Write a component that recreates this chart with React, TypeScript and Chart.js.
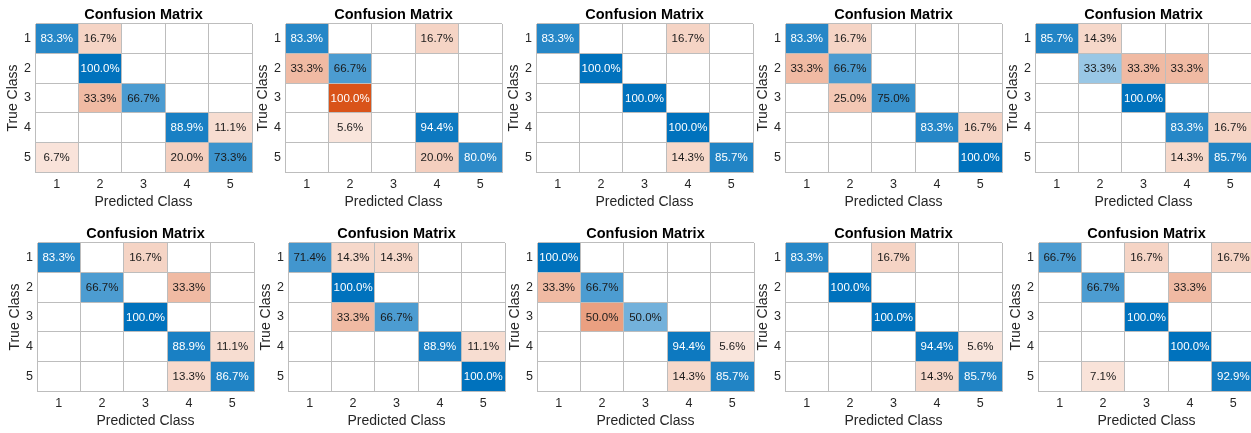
import React, { useEffect, useRef } from "react";
import { Chart, registerables } from "chart.js";

Chart.register(...registerables);

// Class labels shared by both axes
const classLabels = ["1", "2", "3", "4", "5"];
const chartTitle = "Confusion Matrix";
const xAxisTitle = "Predicted Class";
const yAxisTitle = "True Class";

// Row-normalized confusion matrices (percent), rows = true class, cols = predicted class; 0 = empty cell
const run1 = [
  [83.3, 16.7, 0, 0, 0],
  [0, 100.0, 0, 0, 0],
  [0, 33.3, 66.7, 0, 0],
  [0, 0, 0, 88.9, 11.1],
  [6.7, 0, 0, 20.0, 73.3],
];
const run2 = [
  [83.3, 0, 0, 16.7, 0],
  [33.3, 66.7, 0, 0, 0],
  [0, 100.0, 0, 0, 0],
  [0, 5.6, 0, 94.4, 0],
  [0, 0, 0, 20.0, 80.0],
];
const run3 = [
  [83.3, 0, 0, 16.7, 0],
  [0, 100.0, 0, 0, 0],
  [0, 0, 100.0, 0, 0],
  [0, 0, 0, 100.0, 0],
  [0, 0, 0, 14.3, 85.7],
];
const run4 = [
  [83.3, 16.7, 0, 0, 0],
  [33.3, 66.7, 0, 0, 0],
  [0, 25.0, 75.0, 0, 0],
  [0, 0, 0, 83.3, 16.7],
  [0, 0, 0, 0, 100.0],
];
const run5 = [
  [85.7, 14.3, 0, 0, 0],
  [0, 33.3, 33.3, 33.3, 0],
  [0, 0, 100.0, 0, 0],
  [0, 0, 0, 83.3, 16.7],
  [0, 0, 0, 14.3, 85.7],
];
const run6 = [
  [83.3, 0, 16.7, 0, 0],
  [0, 66.7, 0, 33.3, 0],
  [0, 0, 100.0, 0, 0],
  [0, 0, 0, 88.9, 11.1],
  [0, 0, 0, 13.3, 86.7],
];
const run7 = [
  [71.4, 14.3, 14.3, 0, 0],
  [0, 100.0, 0, 0, 0],
  [0, 33.3, 66.7, 0, 0],
  [0, 0, 0, 88.9, 11.1],
  [0, 0, 0, 0, 100.0],
];
const run8 = [
  [100.0, 0, 0, 0, 0],
  [33.3, 66.7, 0, 0, 0],
  [0, 50.0, 50.0, 0, 0],
  [0, 0, 0, 94.4, 5.6],
  [0, 0, 0, 14.3, 85.7],
];
const run9 = [
  [83.3, 0, 16.7, 0, 0],
  [0, 100.0, 0, 0, 0],
  [0, 0, 100.0, 0, 0],
  [0, 0, 0, 94.4, 5.6],
  [0, 0, 0, 14.3, 85.7],
];
const run10 = [
  [66.7, 0, 16.7, 0, 16.7],
  [0, 66.7, 0, 33.3, 0],
  [0, 0, 100.0, 0, 0],
  [0, 0, 0, 100.0, 0],
  [0, 7.1, 0, 0, 92.9],
];

const matrices = [run1, run2, run3, run4, run5, run6, run7, run8, run9, run10];

// Page placement of each matrix grid (top-left corner of the cell area)
const gridOrigins: [number, number][] = [
  [35, 24], [285, 24], [536, 24], [785, 24], [1035, 24],
  [37, 243], [288, 243], [537, 243], [785, 243], [1038, 243],
];

const FONT = '"Liberation Sans", Arial, Helvetica, sans-serif';
const GRID_COLOR = "#BDBDBD";
const AXIS_TEXT = "#262626";
const DIAG_RGB = [0, 114, 189];
const OFF_RGB = [217, 83, 25];

const LEFT_GUTTER = 36;
const TOP_GUTTER = 24;
const BOTTOM_GUTTER = 45;
const GRID_W = 217;
const GRID_H = 148;
const RIGHT_PAD = 2;

// Blend from white toward the base colour; non-empty cells always keep a faint tint
function shade(rgb: number[], pct: number) {
  const t = 0.1 + 0.9 * Math.max(0, Math.min(1, pct / 100));
  const c = rgb.map((v) => Math.round(255 - (255 - v) * t));
  return `rgb(${c[0]},${c[1]},${c[2]})`;
}

type Cell = { x: string; y: string; v: number; diag: boolean };

function toCells(matrix: number[][]): Cell[] {
  const cells: Cell[] = [];
  matrix.forEach((row, r) =>
    row.forEach((v, c) => {
      if (v > 0) cells.push({ x: classLabels[c], y: classLabels[r], v, diag: r === c });
    })
  );
  return cells;
}

const heatmapPlugin = {
  id: "heatmapCells",
  beforeDatasetsDraw(chart: any) {
    const { ctx, scales } = chart;
    const hw = Math.abs(scales.x.getPixelForValue(1) - scales.x.getPixelForValue(0)) / 2;
    const hh = Math.abs(scales.y.getPixelForValue(1) - scales.y.getPixelForValue(0)) / 2;
    const data: Cell[] = chart.data.datasets[0].data;
    const meta = chart.getDatasetMeta(0);
    ctx.save();
    meta.data.forEach((pt: any, i: number) => {
      const d = data[i];
      ctx.fillStyle = shade(d.diag ? DIAG_RGB : OFF_RGB, d.v);
      ctx.fillRect(pt.x - hw, pt.y - hh, hw * 2, hh * 2);
    });
    ctx.restore();
  },
  afterDraw(chart: any) {
    const { ctx, chartArea: ca } = chart;
    const data: Cell[] = chart.data.datasets[0].data;
    const meta = chart.getDatasetMeta(0);
    ctx.save();
    ctx.textAlign = "center";
    ctx.textBaseline = "middle";
    ctx.font = `11.5px ${FONT}`;
    meta.data.forEach((pt: any, i: number) => {
      const d = data[i];
      ctx.fillStyle = d.v >= 78 ? "#FFFFFF" : "#1A1A1A";
      ctx.fillText(`${d.v.toFixed(1)}%`, pt.x, pt.y + 0.5);
    });
    const cx = (ca.left + ca.right) / 2;
    const cy = (ca.top + ca.bottom) / 2;
    ctx.fillStyle = "#000000";
    ctx.font = `bold 14.5px ${FONT}`;
    ctx.fillText(chartTitle, cx, ca.top - 9);
    ctx.fillStyle = AXIS_TEXT;
    ctx.font = `14px ${FONT}`;
    ctx.fillText(xAxisTitle, cx, ca.bottom + 30);
    ctx.translate(ca.left - 22, cy);
    ctx.rotate(-Math.PI / 2);
    ctx.fillText(yAxisTitle, 0, 0);
    ctx.restore();
  },
};

function MatrixPanel({ matrix, left, top }: { matrix: number[][]; left: number; top: number }) {
  const ref = useRef<HTMLCanvasElement>(null);
  const width = LEFT_GUTTER + GRID_W + RIGHT_PAD;
  const height = TOP_GUTTER + GRID_H + BOTTOM_GUTTER;

  useEffect(() => {
    if (!ref.current) return;
    const axisCommon = {
      type: "category" as const,
      labels: classLabels,
      offset: true,
      min: 0,
      max: 4,
      grid: { offset: true, color: GRID_COLOR, lineWidth: 1, drawTicks: false, z: 1 },
      border: { color: GRID_COLOR, width: 1, z: 1 },
    };
    const chart = new Chart(ref.current, {
      type: "scatter",
      data: {
        datasets: [
          {
            data: toCells(matrix) as any,
            pointRadius: 0,
            pointHoverRadius: 0,
          },
        ],
      },
      options: {
        responsive: false,
        animation: false,
        events: [],
        layout: { padding: { top: TOP_GUTTER, left: 0, right: RIGHT_PAD, bottom: 0 } },
        plugins: { legend: { display: false }, tooltip: { enabled: false }, title: { display: false } },
        scales: {
          x: {
            ...axisCommon,
            position: "bottom",
            ticks: { color: AXIS_TEXT, font: { family: FONT, size: 12.5 }, padding: 5, maxRotation: 0, autoSkip: false },
            afterFit: (s: any) => {
              s.height = BOTTOM_GUTTER;
            },
          },
          y: {
            ...axisCommon,
            position: "left",
            ticks: { color: AXIS_TEXT, font: { family: FONT, size: 12.5 }, padding: 4, autoSkip: false },
            afterFit: (s: any) => {
              s.width = LEFT_GUTTER;
            },
          },
        } as any,
      },
      plugins: [heatmapPlugin],
    });
    return () => chart.destroy();
  }, [matrix]);

  return (
    <canvas
      ref={ref}
      width={width}
      height={height}
      style={{ position: "absolute", left: left - LEFT_GUTTER, top: top - TOP_GUTTER, width, height }}
    />
  );
}

export default function App() {
  return (
    <div
      style={{
        position: "absolute",
        left: 0,
        top: 0,
        width: 1251,
        height: 433,
        overflow: "hidden",
        background: "#FFFFFF",
      }}
    >
      {matrices.map((m, i) => (
        <MatrixPanel key={i} matrix={m} left={gridOrigins[i][0]} top={gridOrigins[i][1]} />
      ))}
    </div>
  );
}
